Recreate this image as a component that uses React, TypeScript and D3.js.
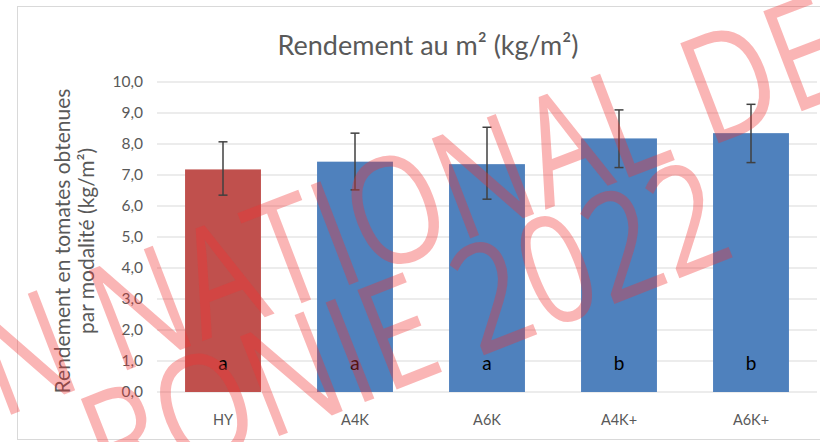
import React from "react";
import * as d3 from "d3";

const categories = ["HY", "A4K", "A6K", "A4K+", "A6K+"];
const values = [7.18, 7.43, 7.35, 8.18, 8.35];
const errLow = [6.35, 6.52, 6.22, 7.24, 7.4];
const errHigh = [8.07, 8.35, 8.54, 9.1, 9.28];
const groups = ["a", "a", "a", "b", "b"];
const barColors = ["#C0504D", "#4F81BD", "#4F81BD", "#4F81BD", "#4F81BD"];
const yTicks = [0, 1, 2, 3, 4, 5, 6, 7, 8, 9, 10];
const watermarkLines = ["N NATIONAL DE", "RONIE 2022"];

const W = 820;
const H = 442;
const FONT = "Lato, 'Open Sans', sans-serif";

export default function App() {
  const x = d3
    .scaleBand<string>()
    .domain(categories)
    .range([157, 817])
    .paddingInner(0.425)
    .paddingOuter(0.2125);
  const y = d3.scaleLinear().domain([0, 10]).range([392, 82]);
  const fmt = (v: number) => d3.format(".1f")(v).replace(".", ",");
  const cap = 4.5;

  return (
    <svg
      width={W}
      height={H}
      style={{ position: "absolute", left: 0, top: 0, background: "#fff" }}
    >
      <rect x={0} y={0} width={W} height={H} fill="#fff" />
      <rect x={17.5} y={6.5} width={W} height={433} fill="none" stroke="#D9D9D9" strokeWidth={1} />
      <text x={428} y={55} textAnchor="middle" fontFamily={FONT} fontSize={27} fill="#595959">
        Rendement au m² (kg/m²)
      </text>
      {yTicks.map((t) => (
        <g key={t}>
          <line x1={157} x2={817} y1={y(t)} y2={y(t)} stroke="#D9D9D9" strokeWidth={1.2} />
          <text
            x={143}
            y={y(t)}
            dy="0.35em"
            textAnchor="end"
            fontFamily={FONT}
            fontSize={15.5}
            fill="#595959"
          >
            {fmt(t)}
          </text>
        </g>
      ))}
      <g transform="translate(63,241) rotate(-90)">
        <text x={0} y={0} dy="0.35em" textAnchor="middle" fontFamily={FONT} fontSize={21} fill="#595959">
          Rendement en tomates obtenues
        </text>
        <text x={0} y={24} dy="0.35em" textAnchor="middle" fontFamily={FONT} fontSize={21} fill="#595959">
          par modalité (kg/m²)
        </text>
      </g>
      {categories.map((c, i) => {
        const bx = x(c)!;
        const cx = bx + x.bandwidth() / 2;
        return (
          <g key={c}>
            <rect x={bx} y={y(values[i])} width={x.bandwidth()} height={y(0) - y(values[i])} fill={barColors[i]} />
            <line x1={cx} x2={cx} y1={y(errLow[i])} y2={y(errHigh[i])} stroke="#404040" strokeWidth={1.5} />
            <line x1={cx - cap} x2={cx + cap} y1={y(errLow[i])} y2={y(errLow[i])} stroke="#404040" strokeWidth={1.5} />
            <line x1={cx - cap} x2={cx + cap} y1={y(errHigh[i])} y2={y(errHigh[i])} stroke="#404040" strokeWidth={1.5} />
            <text x={cx} y={363} dy="0.35em" textAnchor="middle" fontFamily={FONT} fontSize={19} fill="#000">
              {groups[i]}
            </text>
            <text x={cx} y={420} dy="0.35em" textAnchor="middle" fontFamily={FONT} fontSize={14.5} fill="#595959">
              {c}
            </text>
          </g>
        );
      })}
      <g fill="rgba(240,50,50,0.36)" fontFamily="'Open Sans', sans-serif" fontSize={150}>
        <text transform="translate(0,419) rotate(-21)" textLength={915} lengthAdjust="spacingAndGlyphs">
          {watermarkLines[0]}
        </text>
        <text transform="translate(109,503) rotate(-21.5)" textLength={677} lengthAdjust="spacingAndGlyphs">
          {watermarkLines[1]}
        </text>
      </g>
    </svg>
  );
}
